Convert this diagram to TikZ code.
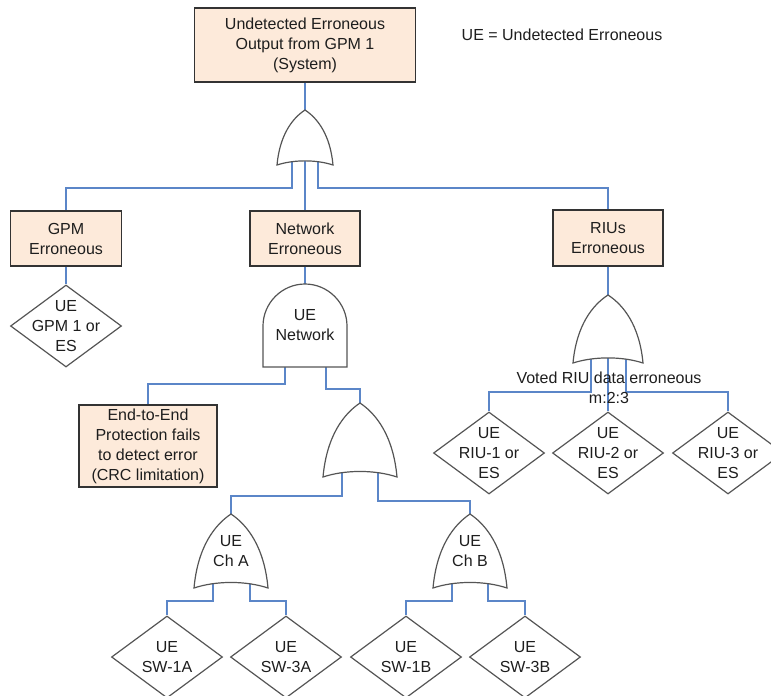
\documentclass[tikz,border=0pt]{standalone}
\usepackage{fontspec}
\setmainfont{Liberation Sans}
\usetikzlibrary{shapes.geometric}
\definecolor{boxfill}{HTML}{FDEADA}
\definecolor{wireblue}{HTML}{5B86C8}
\definecolor{gategray}{HTML}{555555}
\definecolor{txtcol}{HTML}{1E1E1E}
\newcommand\orgate[4]{%
  \draw[gateline] ({#1-#3},{#2+#4}) .. controls ({#1-0.9*#3},{#2+0.45*#4}) and ({#1-0.45*#3},{#2+0.15*#4}) .. (#1,#2)
    .. controls ({#1+0.45*#3},{#2+0.15*#4}) and ({#1+0.9*#3},{#2+0.45*#4}) .. ({#1+#3},{#2+#4})
    .. controls ({#1+0.4*#3},{#2+0.9*#4}) and ({#1-0.4*#3},{#2+0.9*#4}) .. cycle;}
\begin{document}
\begin{tikzpicture}[x=1pt,y=-1pt,
  every node/.style={font=\fontsize{16}{20}\selectfont, text=txtcol, align=center},
  evbox/.style={rectangle, draw=black!80, line width=1.3pt, fill=boxfill, inner sep=0pt},
  wire/.style={draw=wireblue, line width=1.2pt},
  gateline/.style={draw=gategray, line width=1.2pt, fill=white},
  diam/.style={diamond, draw=gategray, line width=1.2pt, fill=white, minimum width=111pt, minimum height=82pt, inner sep=0pt},
  lbl/.style={inner sep=0pt}]
\useasboundingbox (0,0) rectangle (771,696);

% gate reference points
\coordinate (g1) at (305,110);
\coordinate (g1l) at (292,150);
\coordinate (g1c) at (305,150);
\coordinate (g1r) at (318,150);
\coordinate (g2) at (360,403);
\coordinate (g2l) at (342,460);
\coordinate (g2r) at (378,460);
\coordinate (g3) at (231,514);
\coordinate (g3l) at (213,570);
\coordinate (g3r) at (250,570);
\coordinate (g4) at (470,514);
\coordinate (g4l) at (452,570);
\coordinate (g4r) at (488,570);
\coordinate (g5) at (608,295);
\coordinate (g5l) at (591,350);
\coordinate (g5c) at (608,350);
\coordinate (g5r) at (626,350);
\coordinate (and1) at (305,284);
\coordinate (andl) at (285,360);
\coordinate (andr) at (326,360);

% boxes
\node[evbox, minimum width=221pt, minimum height=74pt] (top) at (305,45) {Undetected Erroneous\\Output from GPM 1\\(System)};
\node[lbl] (legend) at (562,35) {UE = Undetected Erroneous};
\node[evbox, minimum width=111pt, minimum height=55pt] (gpm) at (66,238.5) {GPM\\Erroneous};
\node[evbox, minimum width=110pt, minimum height=55pt] (net) at (305,238.5) {Network\\Erroneous};
\node[evbox, minimum width=110pt, minimum height=56pt] (rius) at (608,238) {RIUs\\Erroneous};
\node[evbox, minimum width=138pt, minimum height=82pt] (e2e) at (148,446) {End-to-End\\Protection fails\\to detect error\\(CRC limitation)};

% diamonds
\node[diam] (gpmd) at (66,326) {};
\node[lbl] (gpmdt) at (gpmd) {UE\\GPM 1 or\\ES};
\node[diam] (riu1) at (489,453) {};
\node[lbl] (riu1t) at (riu1) {UE\\RIU-1 or\\ES};
\node[diam] (riu2) at (608,453) {};
\node[lbl] (riu2t) at (riu2) {UE\\RIU-2 or\\ES};
\node[diam] (riu3) at (728,453) {};
\node[lbl] (riu3t) at (riu3) {UE\\RIU-3 or\\ES};
\node[diam] (sw1a) at (167,657) {};
\node[lbl] (sw1at) at (sw1a) {UE\\SW-1A};
\node[diam] (sw3a) at (286,657) {};
\node[lbl] (sw3at) at (sw3a) {UE\\SW-3A};
\node[diam] (sw1b) at (406,657) {};
\node[lbl] (sw1bt) at (sw1b) {UE\\SW-1B};
\node[diam] (sw3b) at (525,657) {};
\node[lbl] (sw3bt) at (sw3b) {UE\\SW-3B};

% connectors
\draw[wire] (top.south) -- (g1);
\draw[wire] (g1l) -- (g1l |- 0,188) -| (gpm.north);
\draw[wire] (g1c) -- (net.north);
\draw[wire] (g1r) -- (g1r |- 0,188) -| (rius.north);
\draw[wire] (gpm.south) -- (gpmd.north);
\draw[wire] (net.south) -- (and1);
\draw[wire] (andl) -- (andl |- 0,384) -| (e2e.north);
\draw[wire] (andr) -- (andr |- 0,389) -| (g2);
\draw[wire] (g2l) -- (g2l |- 0,496) -| (g3);
\draw[wire] (g2r) -- (g2r |- 0,501) -| (g4);
\draw[wire] (g3l) -- (g3l |- 0,601) -| (sw1a.north);
\draw[wire] (g3r) -- (g3r |- 0,601) -| (sw3a.north);
\draw[wire] (g4l) -- (g4l |- 0,601) -| (sw1b.north);
\draw[wire] (g4r) -- (g4r |- 0,601) -| (sw3b.north);
\draw[wire] (rius.south) -- (g5);
\draw[wire] (g5l) -- (g5l |- 0,392) -| (riu1.north);
\draw[wire] (g5c) -- (riu2.north);
\draw[wire] (g5r) -- (g5r |- 0,392) -| (riu3.north);

% gates
\orgate{305}{110}{28}{55}
\orgate{360}{403}{37}{74}
\orgate{231}{514}{37}{74}
\orgate{470}{514}{37}{74}
\orgate{608}{295}{35}{68}
\draw[gateline] (263,367) -- (263,326) .. controls (263,303) and (282,284) .. (and1)
  .. controls (328,284) and (347,303) .. (347,326) -- (347,367) -- cycle;

% gate labels
\node[lbl] (andt) at (305,325) {UE\\Network};
\node[lbl] (chat) at (231,551) {UE\\Ch A};
\node[lbl] (chbt) at (470,551) {UE\\Ch B};
\node[lbl] (voted) at (609,387.5) {Voted RIU data erroneous\\m:2:3};
\end{tikzpicture}
\end{document}
